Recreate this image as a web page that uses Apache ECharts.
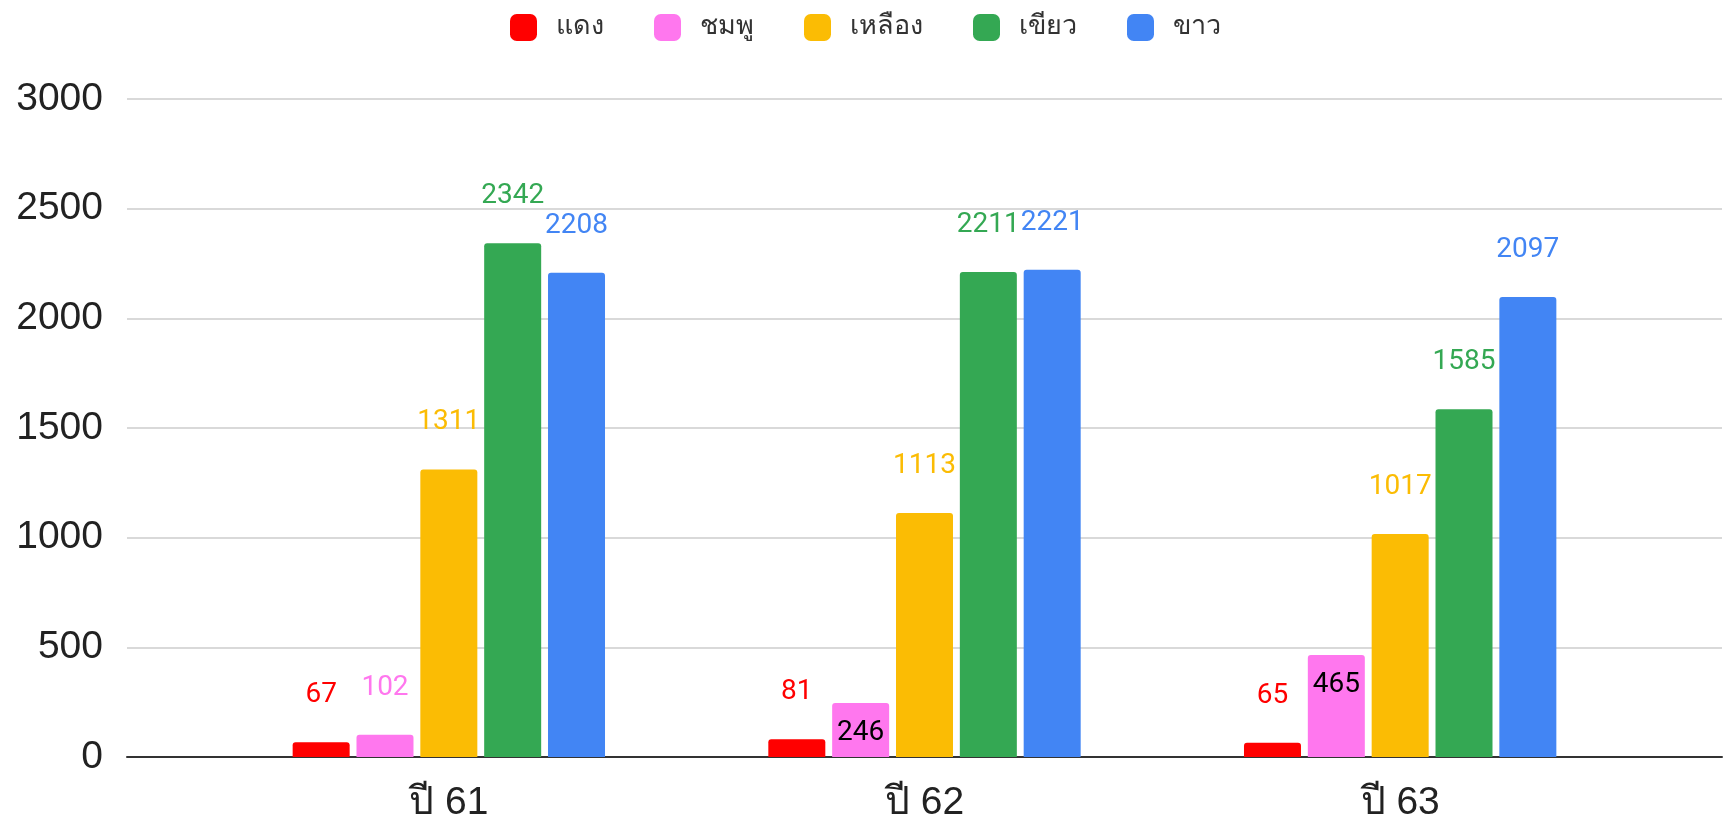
<!DOCTYPE html>
<html>
<head>
<meta charset="utf-8">
<script src="https://cdn.jsdelivr.net/npm/echarts@6/dist/echarts.min.js"></script>
<style>
html,body{margin:0;padding:0;background:#fff;}
#chart{width:1731px;height:821px;}
</style>
</head>
<body>
<div id="chart"></div>
<script>
const categories = ['ปี 61', 'ปี 62', 'ปี 63'];
const seriesNames = ['แดง', 'ชมพู', 'เหลือง', 'เขียว', 'ขาว'];
const red = [67, 81, 65];
const pink = [102, 246, 465];
const yellow = [1311, 1113, 1017];
const green = [2342, 2211, 1585];
const blue = [2208, 2221, 2097];
const yTicks = [0, 500, 1000, 1500, 2000, 2500, 3000];

const colors = ['#ff0000', '#ff77ee', '#fbbc04', '#34a853', '#4285f4'];
const allValues = [red, pink, yellow, green, blue];

const chart = echarts.init(document.getElementById('chart'));
const labelFont = 'Roboto, "Noto Sans", sans-serif';

const series = allValues.map((vals, i) => ({
  name: seriesNames[i],
  type: 'bar',
  xAxisIndex: 1,
  yAxisIndex: 1,
  barWidth: 57,
  barGap: '12%',
  itemStyle: { color: colors[i], borderRadius: [3, 3, 0, 0] },
  data: vals.map(v => {
    const inside = (i === 1 && v > 200);
    return {
      value: v,
      label: inside ? {
        show: true, position: 'insideTop', distance: 16, color: '#000',
        fontSize: 28, fontFamily: labelFont
      } : {
        show: true, position: 'top', distance: 33, color: colors[i],
        fontSize: 28, fontFamily: labelFont
      }
    };
  })
}));

chart.setOption({
  animation: false,
  backgroundColor: '#fff',
  legend: {
    top: 9,
    left: 'center',
    itemWidth: 27,
    itemHeight: 27,
    itemGap: 50,
    icon: 'roundRect',
    textStyle: { fontSize: 27, color: '#333', fontFamily: 'Roboto, "Noto Sans", sans-serif', padding: [0, 0, 0, 14] },
    data: seriesNames
  },
  grid: [
    { left: 127, right: 9, top: 99, bottom: 64, containLabel: false, outerBoundsMode: 'none' },
    { left: 211, right: 93, top: 99, bottom: 64, containLabel: false, outerBoundsMode: 'none' }
  ],
  xAxis: [
    {
      gridIndex: 0, type: 'category', data: categories,
      axisLine: { show: true, lineStyle: { color: '#333', width: 2 } },
      axisTick: { show: false }, axisLabel: { show: false }
    },
    {
      gridIndex: 1, type: 'category', data: categories,
      axisLine: { show: false }, axisTick: { show: false },
      axisLabel: { show: true, fontSize: 39, color: '#222', margin: 27, fontFamily: 'Arial, "Liberation Sans", "Noto Sans", sans-serif' }
    }
  ],
  yAxis: [
    {
      gridIndex: 0, type: 'value', min: yTicks[0], max: yTicks[yTicks.length - 1], interval: 500,
      axisLine: { show: false }, axisTick: { show: false },
      splitLine: { lineStyle: { color: '#cccccc', width: 1.5 } },
      axisLabel: { fontSize: 39, color: '#222', margin: 24, fontFamily: 'Arial, "Liberation Sans", sans-serif',
        formatter: v => String(v) }
    },
    {
      gridIndex: 1, type: 'value', min: yTicks[0], max: yTicks[yTicks.length - 1], interval: 500,
      show: false, splitLine: { show: false }
    }
  ],
  series: series
});
</script>
</body>
</html>
